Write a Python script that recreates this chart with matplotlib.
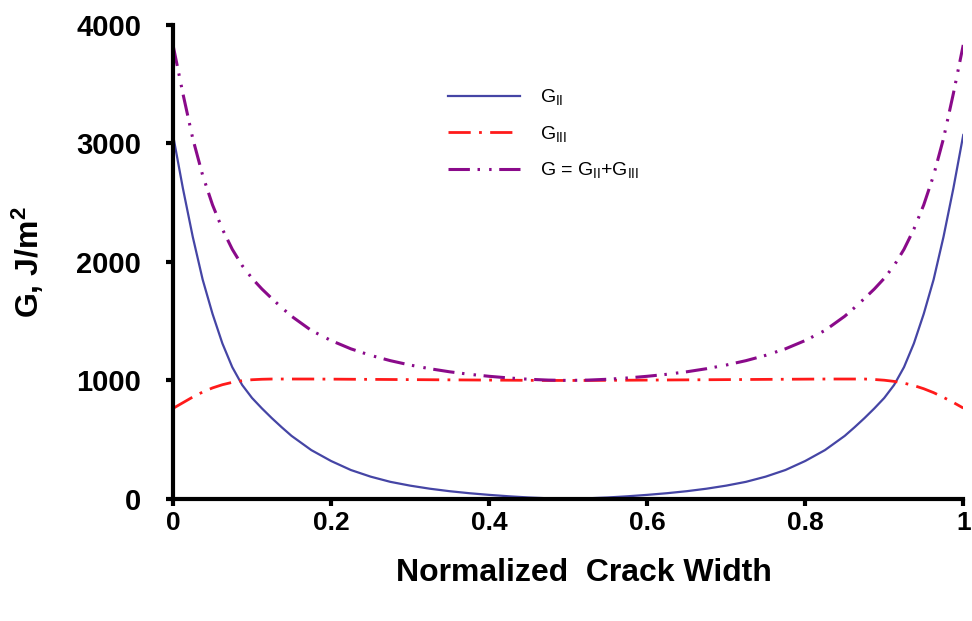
import matplotlib
matplotlib.use("Agg")
import matplotlib.pyplot as plt
from matplotlib.ticker import FixedLocator, FixedFormatter

plt.rcParams['font.family'] = ['Liberation Sans', 'DejaVu Sans']
plt.rcParams['mathtext.default'] = 'regular'

x = [0, 0.0125, 0.025, 0.0375, 0.05, 0.0625, 0.075, 0.0875, 0.1, 0.1125, 0.125, 0.1375, 0.15,
     0.175, 0.2, 0.225, 0.25, 0.275, 0.3, 0.325, 0.35, 0.375, 0.4, 0.425, 0.45, 0.475, 0.5,
     0.525, 0.55, 0.575, 0.6, 0.625, 0.65, 0.675, 0.7, 0.725, 0.75, 0.775, 0.8, 0.825,
     0.85, 0.8625, 0.875, 0.8875, 0.9, 0.9125, 0.925, 0.9375, 0.95, 0.9625, 0.975, 0.9875, 1.0]
g2 = [3070, 2620, 2210, 1850, 1560, 1310, 1110, 960, 850, 762, 680, 603, 530,
      410, 318, 242, 186, 142, 110, 84, 63, 46, 32, 20, 10, 3, 0,
      3, 10, 20, 32, 46, 63, 84, 110, 142, 186, 242, 318, 410,
      530, 603, 680, 762, 850, 960, 1110, 1310, 1560, 1850, 2210, 2620, 3070]
g3 = [762, 810, 858, 900, 935, 962, 982, 996, 1004, 1008, 1010, 1010, 1010,
      1010, 1009, 1008, 1007, 1006, 1005, 1004, 1003, 1002, 1001, 1000, 999, 998, 998,
      998, 999, 1000, 1001, 1002, 1003, 1004, 1005, 1006, 1007, 1008, 1009, 1010,
      1010, 1010, 1010, 1006, 1000, 990, 975, 955, 928, 895, 855, 812, 765]
g_total = [3830, 3420, 3040, 2730, 2480, 2275, 2105, 1968, 1860, 1770, 1690, 1613, 1540,
           1420, 1335, 1265, 1210, 1165, 1128, 1097, 1071, 1050, 1033, 1019, 1008, 1001, 998,
           1001, 1008, 1019, 1033, 1050, 1071, 1097, 1128, 1165, 1210, 1265, 1335, 1420,
           1540, 1613, 1690, 1770, 1860, 1968, 2105, 2275, 2480, 2730, 3040, 3420, 3830]

x_ticks = [0, 0.2, 0.4, 0.6, 0.8, 1.0]
x_tick_labels = ["0", "0.2", "0.4", "0.6", "0.8", "1"]
y_ticks = [0, 1000, 2000, 3000, 4000]
y_tick_labels = ["0", "1000", "2000", "3000", "4000"]

fig = plt.figure(figsize=(9.72, 6.21), dpi=100)
ax = fig.add_axes([0.178, 0.197, 0.813, 0.763])

ax.plot(x, g2, color='#4545a5', lw=1.6, ls='-', label=r'G$_{II}$')
ax.plot(x, g3, color='#ff1a1a', lw=2.0, ls=(0, (8, 3, 1, 3)), label=r'G$_{III}$')
ax.plot(x, g_total, color='#8a0a8a', lw=2.2, ls=(0, (7, 2.5, 0.8, 3, 0.8, 2.5)),
        label=r'G = G$_{II}$+G$_{III}$')

ax.set_xlim(0, 1)
ax.set_ylim(0, 4000)
ax.xaxis.set_major_locator(FixedLocator(x_ticks))
ax.xaxis.set_major_formatter(FixedFormatter(x_tick_labels))
ax.yaxis.set_major_locator(FixedLocator(y_ticks))
ax.yaxis.set_major_formatter(FixedFormatter(y_tick_labels))

for s in ['top', 'right']:
    ax.spines[s].set_visible(False)
for s in ['left', 'bottom']:
    ax.spines[s].set_linewidth(3)
    ax.spines[s].set_capstyle('projecting')
ax.tick_params(axis='both', direction='out', length=5, width=3)
ax.tick_params(axis='x', labelsize=19, pad=4)
ax.tick_params(axis='y', labelsize=21, pad=18)
for lab in ax.get_xticklabels() + ax.get_yticklabels():
    lab.set_fontweight('bold')

ax.set_xlabel('Normalized  Crack Width', fontsize=23, fontweight='bold')
ax.xaxis.set_label_coords(0.52, -0.125)
ax.set_ylabel(r'G, J/m$^2$', fontsize=23, fontweight='bold')
ax.yaxis.set_label_coords(-0.161, 0.5)

leg = ax.legend(loc='upper left', bbox_to_anchor=(0.326, 0.905), frameon=False, fontsize=14,
                handlelength=3.7, handletextpad=1.0, labelspacing=0.85)

fig.savefig('out.png', dpi=100)
